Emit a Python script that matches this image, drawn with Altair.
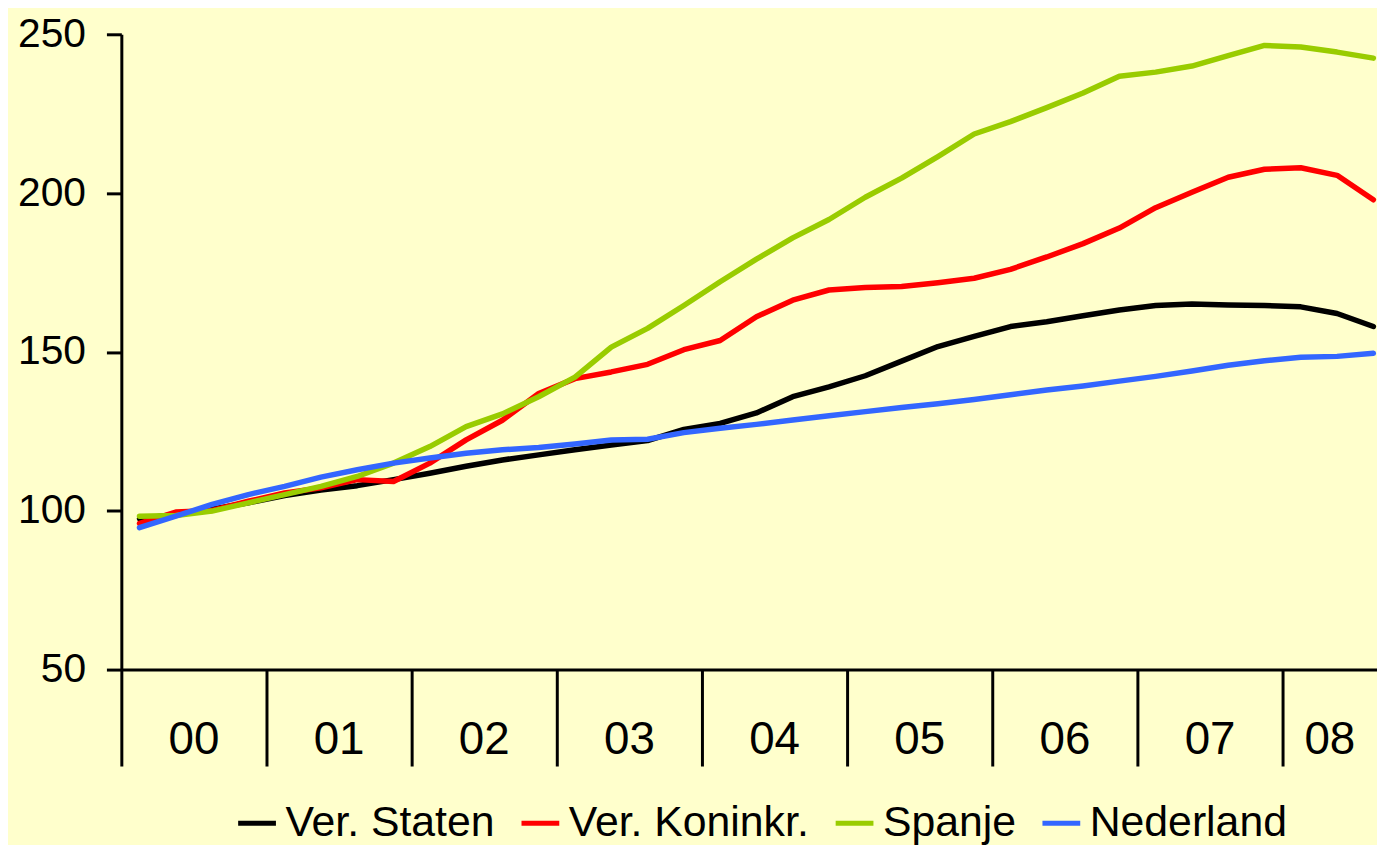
import altair as alt
import pandas as pd

years = ["00", "01", "02", "03", "04", "05", "06", "07", "08"]
series_names = ["Ver. Staten", "Ver. Koninkr.", "Spanje", "Nederland"]
colors = ["#000000", "#FF0000", "#99CC00", "#3366FF"]

ver_staten = [97.5, 98.8, 100.5, 102.5, 104.8, 106.5, 107.9, 109.8, 111.8, 114.0,
              116.0, 117.6, 119.2, 120.7, 122.1, 125.6, 127.5, 130.8, 135.9, 139.0,
              142.5, 147.1, 151.7, 154.9, 158.0, 159.5, 161.4, 163.2, 164.6, 165.1,
              164.8, 164.6, 164.2, 162.1, 158.0]
ver_koninkr = [96.0, 99.6, 100.1, 103.0, 105.6, 107.2, 109.8, 109.2, 115.0, 122.3,
               128.5, 136.9, 141.6, 143.7, 146.1, 150.7, 153.6, 161.1, 166.3, 169.5,
               170.3, 170.6, 171.8, 173.2, 176.0, 179.9, 184.1, 189.0, 195.4, 200.3,
               205.0, 207.5, 208.0, 205.6, 197.9]
spanje = [98.3, 98.5, 99.9, 102.5, 105.1, 107.7, 110.8, 115.0, 120.2, 126.5,
          130.5, 135.9, 142.1, 151.5, 157.4, 164.6, 172.1, 179.2, 185.9, 191.7,
          198.7, 204.7, 211.5, 218.6, 222.5, 226.9, 231.5, 236.8, 238.1, 240.0,
          243.3, 246.5, 246.0, 244.4, 242.5]
nederland = [94.7, 98.3, 102.0, 105.1, 107.7, 110.6, 112.9, 115.0, 116.6, 118.1,
             119.2, 119.9, 121.0, 122.3, 122.5, 124.6, 126.0, 127.2, 128.6, 129.9,
             131.2, 132.5, 133.7, 135.0, 136.5, 138.0, 139.3, 140.8, 142.3, 144.0,
             145.8, 147.2, 148.3, 148.6, 149.6]
y_ticks = [50, 100, 150, 200, 250]

all_series = [ver_staten, ver_koninkr, spanje, nederland]
rows = []
for name, vals in zip(series_names, all_series):
    for i, v in enumerate(vals):
        rows.append({"q": i + 0.5, "serie": name, "waarde": v, "volg": i})
df = pd.DataFrame(rows)

x_max = 34.6
year_starts = [4 * i for i in range(len(years))]
lab_df = pd.DataFrame({
    "jaar": years,
    "pos": [(s + min(s + 4, x_max)) / 2 for s in year_starts],
})

x_axis = alt.Axis(values=year_starts, labels=False, tickSize=97, tickWidth=3,
                  tickColor="black", domainWidth=3, domainColor="black",
                  grid=False, title=None)
x_scale = alt.Scale(domain=[0, x_max], nice=False, zero=False)
y_enc = alt.Y("waarde:Q",
              scale=alt.Scale(domain=[50, 250], nice=False, zero=False),
              axis=alt.Axis(values=y_ticks, tickSize=15, tickWidth=3, tickColor="black",
                            domainWidth=3, domainColor="black", labelFontSize=41,
                            labelColor="black", labelPadding=21, grid=False, title=None,
                            labelFont="Liberation Sans"))
color_enc = alt.Color("serie:N",
                      scale=alt.Scale(domain=series_names, range=colors),
                      legend=alt.Legend(orient="none", legendX=115, legendY=772,
                                        direction="horizontal", gridAlign="none",
                                        symbolType="stroke", symbolSize=1444,
                                        symbolStrokeWidth=5, labelFontSize=43,
                                        labelFont="Liberation Sans", labelColor="black",
                                        labelOffset=7, columnPadding=16,
                                        labelLimit=0, title=None))

layers = []
for name in series_names:
    layers.append(
        alt.Chart(df).transform_filter(alt.datum.serie == name)
        .mark_line(strokeWidth=5.5, strokeJoin="round", strokeCap="round")
        .encode(x=alt.X("q:Q", scale=x_scale, axis=x_axis),
                y=y_enc, color=color_enc, order="volg:Q")
    )

labels = alt.Chart(lab_df).mark_text(
    fontSize=46, font="Liberation Sans", baseline="middle",
    align="center", color="black"
).encode(x=alt.X("pos:Q", scale=x_scale, axis=x_axis), y=alt.value(710), text="jaar:N")

chart = alt.layer(*layers, labels).properties(
    width=1263, height=639,
    autosize=alt.AutoSizeParams(type="none"),
    padding={"left": 114, "top": 24, "right": 0, "bottom": 174},
    background="#FFFFCC",
).configure(font="Liberation Sans").configure_view(stroke=None)

chart.save("out.html", embed_options={"renderer": "svg", "actions": False})
